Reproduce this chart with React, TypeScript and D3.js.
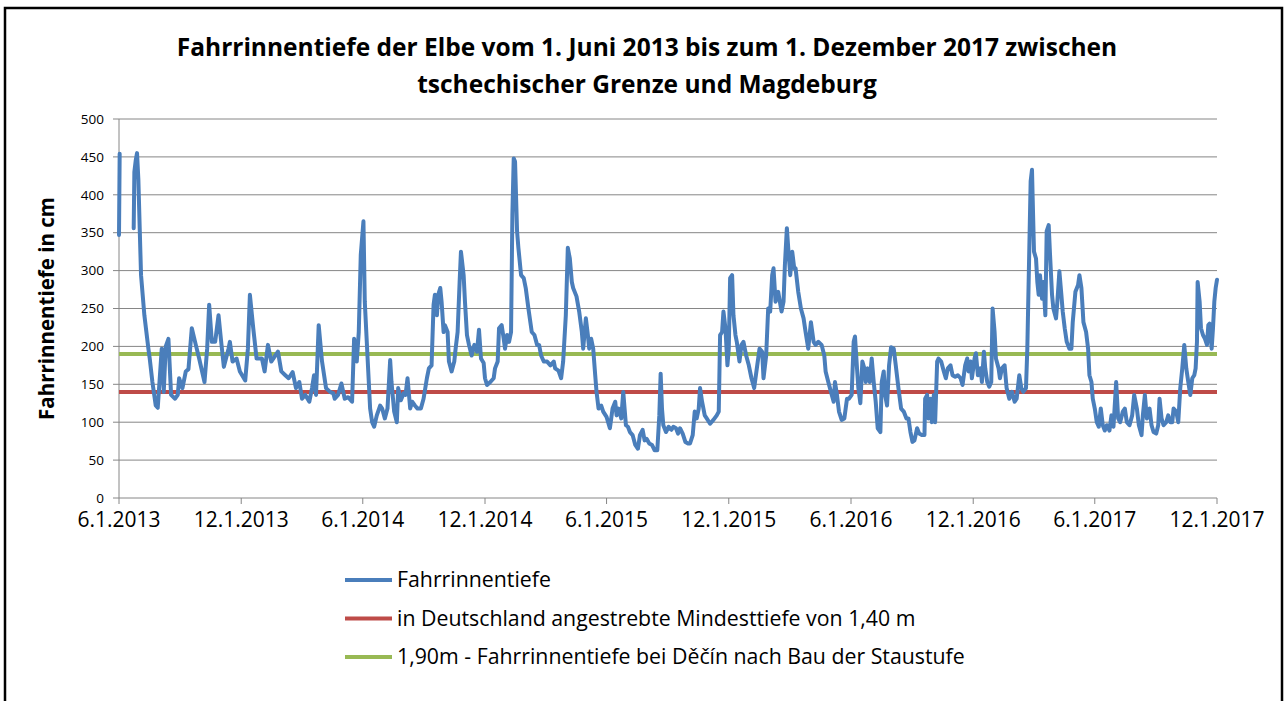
import * as d3 from "d3";

// Fahrrinnentiefe der Elbe
// days counted from 1 June 2013, depth in cm (null = no data)
const startDate = new Date(2013, 5, 1);

const dayOffsets = [
  0, 1, 2, 22, 23, 25, 27, 29, 31, 33, 38, 41, 44, 46, 50, 55, 58, 60, 64, 67, 70, 74, 78, 84, 88, 90,
  95, 100, 104, 109, 115, 120, 128, 132, 135, 139, 144, 149, 153, 157, 164, 166, 170, 176, 181, 189,
  193, 196, 201, 206, 214, 218, 223, 228, 238, 243, 249, 254, 260, 265, 270, 274, 279, 285, 289, 292,
  295, 299, 304, 310, 316, 321, 323, 328, 333, 338, 343, 349, 352, 356, 359, 362, 366, 368, 372, 376,
  379, 382, 386, 391, 394, 398, 402, 406, 408, 412, 416, 418, 422, 426, 429, 432, 436, 439, 443, 447,
  452, 456, 461, 464, 468, 471, 473, 476, 478, 481, 483, 486, 488, 492, 494, 498, 502, 504, 507, 510,
  512, 516, 518, 521, 524, 528, 532, 536, 539, 542, 546, 548, 551, 556, 561, 563, 567, 569, 573, 576,
  578, 581, 584, 587, 589, 591, 593, 596, 598, 602, 606, 609, 613, 618, 622, 626, 629, 632, 636, 641,
  646, 651, 653, 658, 662, 665, 669, 672, 675, 678, 680, 685, 689, 693, 695, 699, 702, 704, 707, 710,
  713, 715, 718, 722, 725, 730, 735, 739, 743, 745, 748, 752, 755, 759, 762, 765, 769, 773, 777, 780,
  784, 787, 790, 794, 798, 802, 806, 809, 811, 813, 815, 819, 823, 827, 830, 834, 837, 840, 844, 848,
  852, 855, 859, 862, 865, 868, 870, 873, 877, 880, 885, 890, 895, 898, 900, 903, 905, 908, 911, 913,
  915, 918, 920, 923, 925, 929, 932, 935, 939, 943, 947, 951, 955, 959, 963, 965, 969, 972, 975, 978,
  980, 983, 987, 992, 995, 997, 1000, 1002, 1005, 1008, 1011, 1013, 1017, 1021, 1025, 1028, 1032, 1036,
  1040, 1043, 1047, 1052, 1056, 1058, 1062, 1066, 1070, 1072, 1075, 1078, 1082, 1086, 1090, 1093, 1097,
  1100, 1102, 1105, 1107, 1110, 1113, 1116, 1118, 1121, 1124, 1127, 1130, 1133, 1136, 1140, 1142, 1145,
  1147, 1150, 1153, 1156, 1160, 1163, 1167, 1171, 1175, 1179, 1182, 1185, 1188, 1191, 1195, 1198, 1202,
  1206, 1207, 1210, 1212, 1215, 1217, 1220, 1222, 1225, 1227, 1231, 1235, 1238, 1241, 1245, 1248, 1252,
  1256, 1260, 1263, 1267, 1270, 1272, 1275, 1277, 1281, 1283, 1286, 1290, 1292, 1295, 1297, 1300, 1303,
  1306, 1308, 1311, 1313, 1317, 1319, 1322, 1326, 1329, 1333, 1337, 1341, 1344, 1348, 1351, 1354, 1358,
  1360, 1363, 1365, 1367, 1368, 1370, 1373, 1375, 1377, 1379, 1382, 1384, 1387, 1389, 1392, 1394, 1397,
  1399, 1403, 1405, 1408, 1411, 1413, 1416, 1419, 1423, 1426, 1428, 1432, 1436, 1438, 1441, 1444, 1448,
  1451, 1453, 1456, 1458, 1461, 1464, 1467, 1470, 1473, 1476, 1479, 1483, 1486, 1489, 1493, 1496, 1499,
  1503, 1506, 1509, 1513, 1517, 1520, 1524, 1527, 1531, 1533, 1536, 1539, 1543, 1546, 1549, 1553, 1556,
  1558, 1561, 1564, 1568, 1571, 1574, 1577, 1579, 1583, 1586, 1589, 1592, 1595, 1598, 1601, 1604, 1607,
  1610, 1612, 1614, 1615, 1618, 1620, 1623, 1626, 1629, 1631, 1633, 1636, 1638, 1640, 1642, 1644,
];

const depthCm: (number | null)[] = [
  347, 454, null, 356, 430, 445, 455, 420, 356, 294, 241, 219, 197, 184, 153, 122, 119, 145, 197, 140, 200, 210, 136, 131, 136, 158,
  145, 167, 170, 224, 202, 184, 153, 197, 255, 206, 206, 241, 206, 173, 197, 206, 180, 184, 167, 155,
  197, 268, 224, 184, 184, 167, 202, 180, 193, 167, 162, 158, 166, 145, 153, 131, 136, 127, 145, 162,
  136, 228, 180, 145, 140, 138, 131, 136, 151, 131, 133, 127, 210, 180, 219, 321, 365, 259, 188, 118,
  100, 94, 109, 122, 118, 105, 118, 182, 153, 114, 100, 145, 129, 138, 136, 158, 118, 127, 122, 118,
  118, 131, 158, 171, 175, 255, 268, 241, 268, 277, 259, 219, 228, 219, 180, 167, 180, 197, 219, 285,
  325, 294, 259, 215, 202, 188, 202, 193, 222, 184, 178, 158, 149, 153, 158, 171, 180, 224, 228, 210,
  197, 215, 206, 219, 374, 448, 444, 352, 330, 294, 290, 277, 250, 219, 215, 202, 202, 188, 180, 180,
  175, 180, 171, 168, 158, 180, 241, 330, 316, 285, 277, 266, 246, 219, 197, 237, 215, 197, 210, 197,
  162, 140, 118, 122, 114, 107, 92, 118, 127, 109, 118, 105, 140, 96, 94, 87, 83, 70, 65, 83,
  90, 76, 78, 72, 70, 63, 63, 109, 164, 118, 96, 87, 94, 90, 94, 92, 85, 92, 85, 74,
  72, 72, 83, 114, 105, 118, 145, 127, 109, 105, 98, 103, 109, 114, 215, 219, 246, 224, 175, 197,
  290, 294, 241, 215, 206, 180, 202, 206, 188, 175, 158, 145, 171, 197, 193, 158, 188, 250, 246, 294,
  303, 259, 272, 246, 259, 307, 356, 330, 294, 325, 303, 303, 272, 250, 237, 219, 197, 232,
  206, 202, 206, 202, 188, 167, 153, 140, 127, 153, 136, 114, 103, 105, 131, 131, 136,
  206, 213, 171, 145, 125, 180, 171, 153, 171, 153, 184, 153, 127, 92, 87, 153, 167,
  136, 122, 175, 199, 197, 175, 145, 118, 114, 105, 105, 87, 74, 76, 92, 85, 83,
  83, 131, 136, 105, 131, 100, 136, 100, 180, 184, 180, 167, 158, 171, 175, 162, 160,
  162, 158, 149, 175, 184, 167, 180, 158, 184, 191, 162, 171, 153, 193, 171, 153, 147,
  153, 250, 219, 184, 171, 158, 171, 175, 145, 131, 140, 127, 131, 162, 145, 140, 145,
  197, 330, 418, 433, 396, 325, 316, 285, 268, 294, 263, 285, 241, 352, 360, 321, 268,
  250, 237, 259, 299, 268, 246, 224, 206, 197, 197, 232, 272, 281, 294, 277, 232, 219,
  197, 162, 153, 131, 118, 100, 94, 118, 96, 89, 96, 89, 109, 94, 153, 105, 100,
  114, 118, 100, 96, 109, 136, 118, 96, 83, 109, 136, 105, 118, 96, 87, 85, 96,
  131, 105, 96, 100, 109, 100, 100, 118, 114, 100, 145, 171, 202, 171, 153, 136, 158,
  162, 171, 206, 285, 259, 224, 215, 210, 202, 228, 230, 197, 224, 259, 277, 288,
];

const minDepth = 140; // Mindesttiefe Deutschland
const deczinDepth = 190; // nach Bau der Staustufe Děčín

const yTicks = [0, 50, 100, 150, 200, 250, 300, 350, 400, 450, 500];
const xTickDates = [
  new Date(2013, 5, 1), new Date(2013, 11, 1), new Date(2014, 5, 1), new Date(2014, 11, 1),
  new Date(2015, 5, 1), new Date(2015, 11, 1), new Date(2016, 5, 1), new Date(2016, 11, 1),
  new Date(2017, 5, 1), new Date(2017, 11, 1),
];

const titleLines = [
  "Fahrrinnentiefe der Elbe vom 1. Juni 2013 bis zum 1. Dezember 2017 zwischen",
  "tschechischer Grenze und Magdeburg",
];
const legendLabels = [
  "Fahrrinnentiefe",
  "in Deutschland angestrebte Mindesttiefe von 1,40 m",
  "1,90m - Fahrrinnentiefe bei Děčín nach Bau der Staustufe",
];
const colors = ["#4a7ebb", "#be4b48", "#98b954"];

const width = 1288;
const height = 701;
const margin = { left: 119, right: 71, top: 119, bottom: 203 };
const font = "'Open Sans', 'DejaVu Sans', sans-serif";

export default function App() {
  const x = d3
    .scaleTime()
    .domain([startDate, new Date(2017, 11, 1)])
    .range([margin.left, width - margin.right]);
  const y = d3
    .scaleLinear()
    .domain([0, 500])
    .range([height - margin.bottom, margin.top]);

  const points = dayOffsets.map((d, i) => ({
    date: d3.timeDay.offset(startDate, d),
    value: depthCm[i],
  }));

  const line = d3
    .line<{ date: Date; value: number | null }>()
    .defined((d) => d.value !== null)
    .x((d) => x(d.date))
    .y((d) => y(d.value as number));

  const fmt = d3.timeFormat("%-m.%-d.%Y");
  const [x0, x1] = x.range();
  const y0 = y(0);

  return (
    <svg
      width={width}
      height={height}
      style={{ position: "absolute", left: 0, top: 0, background: "#fff" }}
      fontFamily={font}
    >
      <rect x={5} y={8} width={1277} height={720} fill="#fff" stroke="#000" strokeWidth={2.5} />

      {/* title */}
      {titleLines.map((t, i) => (
        <text
          key={t}
          x={647}
          y={56 + i * 37}
          textAnchor="middle"
          fontSize={24.5}
          fontWeight="bold"
          fill="#000"
        >
          {t}
        </text>
      ))}

      {/* grid + y axis */}
      {yTicks.map((t) => (
        <g key={t}>
          {t > 0 && <line x1={x0} x2={x1} y1={y(t)} y2={y(t)} stroke="#868686" strokeWidth={1} />}
          <line x1={x0 - 6} x2={x0} y1={y(t)} y2={y(t)} stroke="#868686" />
          <text x={x0 - 15} y={y(t)} dy="0.35em" textAnchor="end" fontSize={13.5} fill="#000">
            {t}
          </text>
        </g>
      ))}
      <line x1={x0} x2={x0} y1={y(500)} y2={y0} stroke="#868686" />
      <line x1={x0} x2={x1} y1={y0} y2={y0} stroke="#868686" />

      {/* x axis */}
      {xTickDates.map((d) => (
        <g key={+d}>
          <line x1={x(d)} x2={x(d)} y1={y0} y2={y0 + 6} stroke="#868686" />
          <text x={x(d)} y={y0 + 29} textAnchor="middle" fontSize={21} fill="#000">
            {fmt(d)}
          </text>
        </g>
      ))}

      <text
        transform={`translate(54,${(y(500) + y0) / 2}) rotate(-90)`}
        textAnchor="middle"
        fontSize={20.5}
        fontWeight="bold"
        fill="#000"
      >
        Fahrrinnentiefe in cm
      </text>

      {/* reference lines */}
      <line x1={x0} x2={x1} y1={y(minDepth)} y2={y(minDepth)} stroke={colors[1]} strokeWidth={4} />
      <line x1={x0} x2={x1} y1={y(deczinDepth)} y2={y(deczinDepth)} stroke={colors[2]} strokeWidth={4} />

      {/* series */}
      <path
        d={line(points) ?? ""}
        fill="none"
        stroke={colors[0]}
        strokeWidth={4}
        strokeLinejoin="round"
        strokeLinecap="round"
      />

      {/* legend */}
      {legendLabels.map((l, i) => (
        <g key={l} transform={`translate(345,${580 + i * 38.5})`}>
          <line x1={0} x2={47} y1={0} y2={0} stroke={colors[i]} strokeWidth={4} />
          <text x={52} y={0} dy="0.35em" fontSize={21.3} fill="#000">
            {l}
          </text>
        </g>
      ))}
    </svg>
  );
}
